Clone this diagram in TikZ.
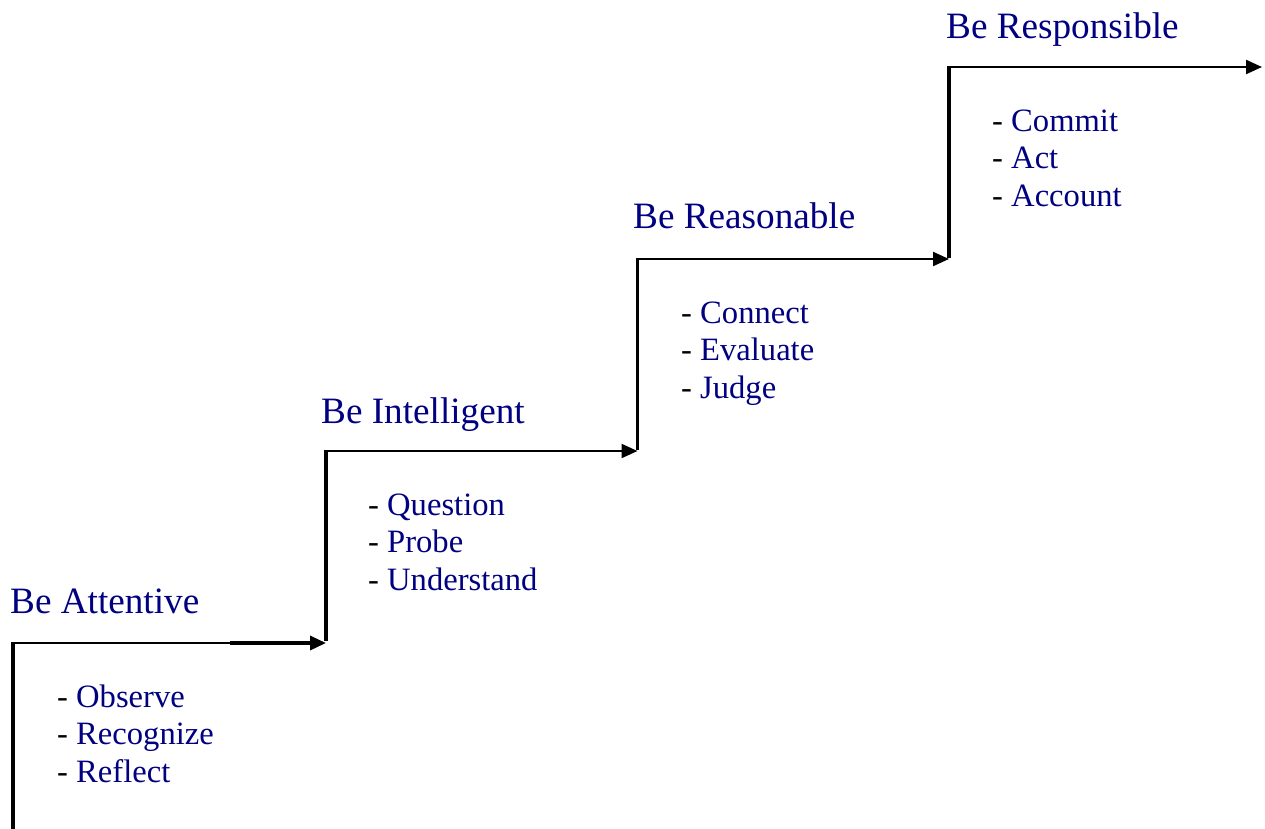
\documentclass[tikz,border=0pt]{standalone}
\usepackage{fontspec}
\setmainfont{Liberation Serif}
\usetikzlibrary{arrows.meta}
\definecolor{navytxt}{HTML}{000080}
\tikzset{
  vline/.style={line width=3.5pt, black},
  hline/.style={line width=2.2pt, black},
  hthick/.style={line width=3.4pt, black},
  tip/.style={-{Triangle[length=16pt,width=14pt]}},
  heading/.style={anchor=base west, inner sep=0pt, text=navytxt, font=\fontsize{37.2}{40}\selectfont},
  item/.style={anchor=base west, inner sep=0pt, text=navytxt, font=\fontsize{32.6}{37.5}\selectfont},
}
\newcommand{\itm}[1]{\textcolor{black}{-} #1}
\begin{document}
\begin{tikzpicture}[x=1pt,y=-1pt]
\useasboundingbox (0,0) rectangle (1265,828);
\coordinate (c0) at (13,830);
\coordinate (c1) at (13,643);
\coordinate (c2) at (230,643);
\coordinate (c3) at (326,643);
\coordinate (c4) at (326,451);
\coordinate (c5) at (637.5,451);
\coordinate (c6) at (637.5,259);
\coordinate (c7) at (949,259);
\coordinate (c8) at (949,67);
\coordinate (c9) at (1262,67);

\draw[vline] (c0) -- ([yshift=-1.1pt]c1);
\draw[hline] ([xshift=-1.75pt]c1) -- (c2);
\draw[hthick,tip] (c2) -- (c3);
\draw[vline] ([yshift=1.7pt]c3) -- ([yshift=-1.1pt]c4);
\draw[hline,tip] ([xshift=-1.75pt]c4) -- (c5);
\draw[vline] ([yshift=1.5pt]c5) -- ([yshift=-1.1pt]c6);
\draw[hline,tip] ([xshift=-1.75pt]c6) -- (c7);
\draw[vline] ([yshift=1.5pt]c7) -- ([yshift=-1.1pt]c8);
\draw[hline,tip] ([xshift=-1.75pt]c8) -- (c9);

\node[heading] (h1) at (10,613) {Be Attentive};
\node[item] (a1) at (57,707) {\itm{Observe}};
\node[item] (a2) at (57,744.5) {\itm{Recognize}};
\node[item] (a3) at (57,782) {\itm{Reflect}};

\node[heading] (h2) at (321,423) {Be Intelligent};
\node[item] (b1) at (368,515) {\itm{Question}};
\node[item] (b2) at (368,552.5) {\itm{Probe}};
\node[item] (b3) at (368,590) {\itm{Understand}};

\node[heading] (h3) at (633,228) {Be Reasonable};
\node[item] (r1) at (681,323) {\itm{Connect}};
\node[item] (r2) at (681,360.5) {\itm{Evaluate}};
\node[item] (r3) at (681,398) {\itm{Judge}};

\node[heading] (h4) at (946,38) {Be Responsible};
\node[item] (s1) at (992,131) {\itm{Commit}};
\node[item] (s2) at (992,168.5) {\itm{Act}};
\node[item] (s3) at (992,206) {\itm{Account}};
\end{tikzpicture}
\end{document}
